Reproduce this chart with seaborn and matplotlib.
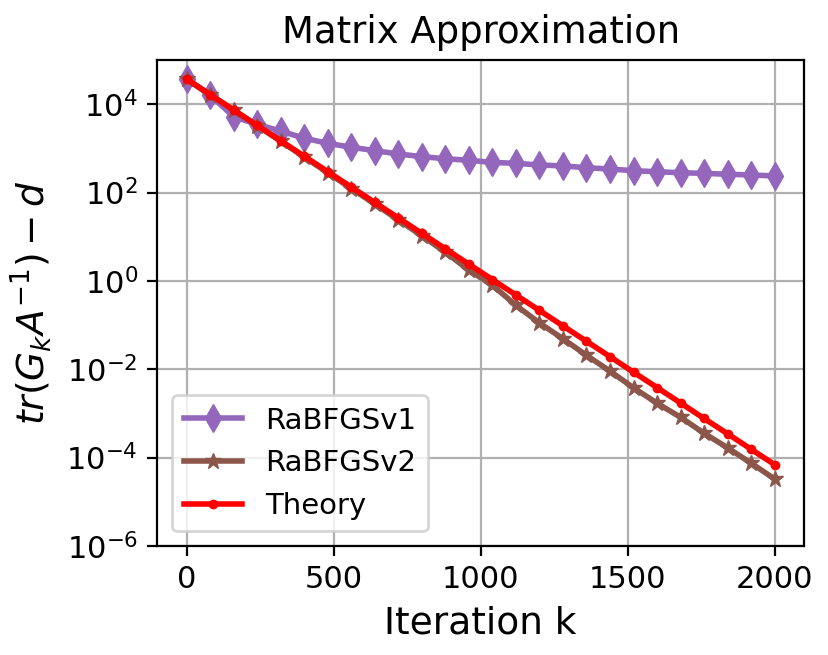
import matplotlib
matplotlib.use("Agg")
import matplotlib.pyplot as plt
import seaborn as sns
import pandas as pd

iterations = [0, 80, 160, 240, 320, 400, 480, 560, 640, 720, 800, 880, 960,
              1040, 1120, 1200, 1280, 1360, 1440, 1520, 1600, 1680, 1760, 1840, 1920, 2000]

rabfgs_v1 = [3.7e4, 1.6e4, 5.2e3, 3.5e3, 2.45e3, 1.7e3, 1.3e3, 1.06e3, 887, 747,
             650, 583, 537, 480, 459, 421, 400, 365, 341, 312, 296, 281, 272, 259, 250, 237]

rabfgs_v2 = [3.69e4, 1.62e4, 7.24e3, 3.24e3, 1.45e3, 631, 282, 123, 55, 24, 10.5,
             4.47, 1.75, 0.80, 0.28, 0.112, 0.049, 0.0207, 0.0091, 0.0038, 0.00171,
             8.2e-4, 3.57e-4, 1.67e-4, 7.5e-5, 3.3e-5]

theory = [3.69e4, 1.65e4, 7.4e3, 3.31e3, 1.48e3, 664, 297, 133, 59.6, 26.7, 11.9,
          5.35, 2.39, 1.07, 0.48, 0.215, 0.096, 0.043, 0.0193, 0.0086, 0.00386,
          0.00173, 7.7e-4, 3.47e-4, 1.55e-4, 6.95e-5]

series_names = ["RaBFGSv1", "RaBFGSv2", "Theory"]
y_ticks = [1e-6, 1e-4, 1e-2, 1e0, 1e2, 1e4]

df = pd.DataFrame({"k": iterations, "RaBFGSv1": rabfgs_v1,
                   "RaBFGSv2": rabfgs_v2, "Theory": theory})

fig = plt.figure(figsize=(829 / 200, 655 / 200), dpi=200)
ax = fig.add_axes([157.3 / 829, 1 - 546 / 655, (804 - 157.3) / 829, (546 - 60) / 655])

styles = {
    "RaBFGSv1": dict(color="#9467bd", marker="d", markersize=7),
    "RaBFGSv2": dict(color="#8c564b", marker="*", markersize=6),
    "Theory": dict(color="red", marker=".", markersize=6),
}
for name in series_names:
    st = styles[name]
    sns.lineplot(data=df, x="k", y=name, ax=ax, label=name, color=st["color"],
                 marker=st["marker"], markersize=st["markersize"],
                 markeredgewidth=0.5, markeredgecolor=st["color"], linewidth=2)

ax.set_yscale("log")
ax.set_ylim(1e-6, 1e5)
ax.set_yticks(y_ticks)
ax.set_xticks([0, 500, 1000, 1500, 2000])
ax.set_xlim(-100, 2100)
ax.minorticks_off()
ax.grid(True, color="#b0b0b0", linewidth=0.8)
ax.tick_params(labelsize=11)
ax.set_xlabel("Iteration k", fontsize=13.5)
ax.set_ylabel(r"$tr(G_kA^{-1})-d$", fontsize=13.5)
ax.set_title("Matrix Approximation", fontsize=13.3)
ax.legend(loc="lower left", fontsize=10.5)

fig.savefig("out.png", dpi=200)
